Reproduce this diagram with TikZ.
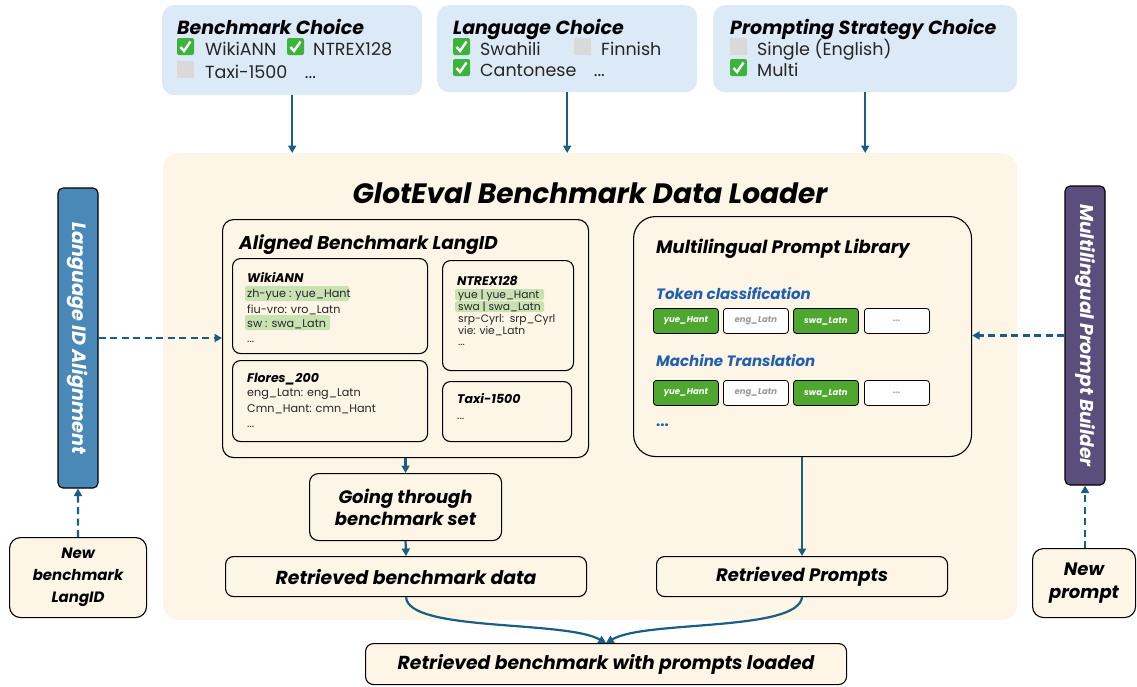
\documentclass[tikz,border=0pt]{standalone}
\usepackage{fontspec}
\setmainfont{Poppins}
\usetikzlibrary{arrows.meta}
\definecolor{topblue}{RGB}{220,233,246}
\definecolor{cream}{RGB}{253,245,230}
\definecolor{teal}{RGB}{27,94,131}
\definecolor{chipgreen}{RGB}{78,167,46}
\definecolor{hlgreen}{RGB}{200,226,180}
\definecolor{labblue}{RGB}{31,95,173}
\definecolor{lidblue}{RGB}{74,136,184}
\definecolor{builder}{RGB}{90,79,124}
\definecolor{chkgreen}{RGB}{60,180,60}
\definecolor{boxgrey}{RGB}{217,217,217}
\newcommand{\fs}[1]{\fontsize{#1}{#1}\selectfont}
\tikzset{
  topbox/.style={fill=topblue, rounded corners=12pt, anchor=north west, inner sep=0pt},
  bigbox/.style={fill=cream, rounded corners=16pt, anchor=north west, inner sep=0pt},
  rbox/.style={draw=black, line width=1.1pt, fill=cream, rounded corners=11pt, anchor=north west, inner sep=0pt},
  sbox/.style={draw=black, line width=1.1pt, fill=cream, rounded corners=8pt, anchor=north west, inner sep=0pt},
  chip/.style={draw=black, line width=0.8pt, rounded corners=3pt, minimum width=65, minimum height=25, anchor=north west, inner sep=0pt, font={\fs{8.5}\bfseries\itshape}},
  gchip/.style={chip, fill=chipgreen, text=white},
  wchip/.style={chip, fill=white, text=black!40},
  side/.style={draw=black, line width=1.1pt, rounded corners=5pt, minimum width=40, minimum height=300, inner sep=0pt},
  ttl/.style={anchor=base west, inner sep=0pt, font={\fs{19}\bfseries\itshape}},
  item/.style={anchor=base west, inner sep=0pt, font={\fs{17.5}}, text=black!85},
  sttl/.style={anchor=base west, inner sep=0pt, font={\fs{12.5}\bfseries\itshape}},
  sitem/.style={anchor=base west, inner sep=0pt, font={\fs{11.2}}, text=black!85},
  xsitem/.style={anchor=base west, inner sep=0pt, font={\fs{10.7}}, text=black!85},
  hl/.style={fill=hlgreen, rounded corners=2pt},
  conn/.style={teal, line width=2.2pt, -{Triangle[width=8pt,length=7.5pt]}},
  dconn/.style={conn, dash pattern=on 7pt off 4.5pt},
  pics/chk/.style={code={
    \fill[chkgreen, rounded corners=2pt] (0,0) rectangle (17,17);
    \draw[white, line width=2.4pt] (3.5,9) -- (7,13) -- (13.5,3.5);}},
  pics/gbox/.style={code={\fill[boxgrey] (0,0) rectangle (17,17);}}
}
\begin{document}
\begin{tikzpicture}[x=1pt,y=-1pt]
\useasboundingbox (0,0) rectangle (1137,686);

% top choice boxes
\node[topbox, minimum width=260, minimum height=90] (bc) at (162,5) {};
\node[topbox, minimum width=260, minimum height=87] (lc) at (437,5) {};
\node[topbox, minimum width=304, minimum height=87] (pc) at (713,5) {};

\node[ttl] (bct) at (177,34) {Benchmark Choice};
\pic at (177,38) {chk};
\node[item] (bc1) at (205,55) {WikiANN};
\pic at (287,38) {chk};
\node[item] (bc2) at (313,55) {NTREX128};
\pic at (177,61) {gbox};
\node[item] (bc3) at (205,78) {Taxi-1500\quad ...};

\node[ttl] (lct) at (453,34) {Language Choice};
\pic at (453,38) {chk};
\node[item] (lc1) at (480,55) {Swahili};
\pic at (574,38) {gbox};
\node[item] (lc2) at (601,55) {Finnish};
\pic at (453,59) {chk};
\node[item] (lc3) at (480,76) {Cantonese\quad ...};

\node[ttl] (pct) at (730,34) {Prompting Strategy Choice};
\pic at (730,38) {gbox};
\node[item] (pc1) at (757,55) {Single (English)};
\pic at (730,59) {chk};
\node[item] (pc2) at (757,76) {Multi};

% big loader box
\node[bigbox, minimum width=854, minimum height=467] (big) at (163,153) {};
\node[anchor=base, inner sep=0pt, font={\fs{28}\bfseries\itshape}] (bigt) at (590,203) {GlotEval Benchmark Data Loader};

% aligned benchmark langid
\node[rbox, minimum width=366, minimum height=238] (al) at (222,219) {};
\node[anchor=base west, inner sep=0pt, font={\fs{18.5}\bfseries\itshape}] (alt) at (239,249) {Aligned Benchmark LangID};

\node[sbox, minimum width=195, minimum height=95] (wk) at (232,258) {};
\node[sttl] (wkt) at (247,282) {WikiANN};
\fill[hl] (245,286) rectangle (349,301);
\fill[hl] (245,315) rectangle (330,330);
\node[sitem] (wk1) at (247,297) {zh-yue : yue\_Hant};
\node[sitem] (wk2) at (247,313) {fiu-vro: vro\_Latn};
\node[sitem] (wk3) at (247,327) {sw : swa\_Latn};
\node[sitem] (wk4) at (247,342) {...};

\node[sbox, minimum width=131, minimum height=110] (nt) at (442,260) {};
\node[sttl] (ntt) at (457,285) {NTREX128};
\fill[hl] (455,289) rectangle (544,300);
\fill[hl] (455,301) rectangle (544,312);
\node[xsitem] (nt1) at (458,298) {yue | yue\_Hant};
\node[xsitem] (nt2) at (458,310) {swa | swa\_Latn};
\node[xsitem] (nt3) at (458,322) {srp-Cyrl:\ \ srp\_Cyrl};
\node[xsitem] (nt4) at (458,334) {vie: vie\_Latn};
\node[xsitem] (nt5) at (458,345) {...};

\node[sbox, minimum width=195, minimum height=81] (fl) at (232,360) {};
\node[sttl] (flt) at (247,382) {Flores\_200};
\node[sitem] (fl1) at (247,396) {eng\_Latn: eng\_Latn};
\node[sitem] (fl2) at (247,412) {Cmn\_Hant: cmn\_Hant};
\node[sitem] (fl3) at (247,427) {...};

\node[sbox, minimum width=129, minimum height=60] (tx) at (442,381) {};
\node[sttl] (txt) at (457,403) {Taxi-1500};
\node[sitem] (tx1) at (457,419) {...};

% prompt library
\node[rbox, rounded corners=22pt, minimum width=338, minimum height=240] (pl) at (633,216) {};
\node[anchor=base west, inner sep=0pt, font={\fs{18}\bfseries\itshape}] (plt) at (656,253) {Multilingual Prompt Library};
\node[anchor=base west, inner sep=0pt, font={\fs{15}\bfseries\itshape}, text=labblue] (tc) at (656,299) {Token classification};
\node[gchip] (c1) at (653,308) {yue\_Hant};
\node[wchip] (c2) at (723,308) {eng\_Latn};
\node[gchip] (c3) at (793,308) {swa\_Latn};
\node[wchip] (c4) at (864,308) {...};
\node[anchor=base west, inner sep=0pt, font={\fs{15}\bfseries\itshape}, text=labblue] (mt) at (656,366) {Machine Translation};
\node[gchip] (d1) at (653,380) {yue\_Hant};
\node[wchip] (d2) at (723,380) {eng\_Latn};
\node[gchip] (d3) at (793,380) {swa\_Latn};
\node[wchip] (d4) at (864,380) {...};
\node[anchor=base west, inner sep=0pt, font={\fs{15}\bfseries}, text=labblue] (pdots) at (656,426) {...};

% flow boxes
\node[rbox, rounded corners=9pt, minimum width=192, minimum height=67] (go) at (309,473) {};
\node[align=center, font={\fs{18}\bfseries\itshape}, inner sep=0pt] (got) at (go.center) {Going through\\[3pt]benchmark set};
\node[rbox, rounded corners=8pt, minimum width=361, minimum height=40, font={\fs{18.8}\bfseries\itshape}] (rd) at (225,556) {Retrieved benchmark data};
\node[rbox, rounded corners=8pt, minimum width=291, minimum height=40, font={\fs{18}\bfseries\itshape}] (rp) at (656,556) {Retrieved Prompts};
\node[rbox, rounded corners=8pt, minimum width=481, minimum height=41, font={\fs{18.8}\bfseries\itshape}] (fin) at (365,643) {Retrieved benchmark with prompts loaded};

% side boxes
\node[side, fill=lidblue] (lid) at (78,338) {};
\node[rotate=-90, text=white, inner sep=0pt, font={\fs{19.2}\bfseries\itshape}] (lidt) at (lid.center) {Language ID Alignment};
\node[side, fill=builder, minimum height=299] (mb) at (1085,335.5) {};
\node[rotate=-90, text=white, inner sep=0pt, font={\fs{18.6}\bfseries\itshape}] (mbt) at (mb.center) {Multilingual Prompt Builder};

\node[rbox, rounded corners=11pt, minimum width=137, minimum height=80] (nb) at (9,537) {};
\node[align=center, inner sep=0pt, font={\fs{15}\bfseries\itshape}] (nbt) at (nb.center) {New\\[7pt]benchmark\\[7pt]LangID};
\node[rbox, rounded corners=11pt, minimum width=103, minimum height=69] (np) at (1032,548) {};
\node[align=center, inner sep=0pt, font={\fs{18}\bfseries\itshape}] (npt) at (np.center) {New\\[5pt]prompt};

% connectors
\draw[conn] (bc.south) -- (bc.south |- big.north);
\draw[conn] (lc.south) -- (lc.south |- big.north);
\draw[conn] (pc.south) -- (pc.south |- big.north);
\draw[conn] (al.south) -- (go.north);
\draw[conn] (go.south) -- (rd.north);
\draw[conn] (pl.south -| rp.north) -- (rp.north);
\draw[conn] (rd.south) .. controls (408,632) and (565,620) .. (fin.north);
\draw[conn] (rp.south) .. controls (798,632) and (645,620) .. (fin.north);
\draw[dconn] (lid.east) -- (al.west |- lid.east);
\draw[dconn] (mb.west) -- (pl.east |- mb.west);
\draw[dconn] (nb.north) -- (lid.south);
\draw[dconn] (np.north -| mb.south) -- (mb.south);
\end{tikzpicture}
\end{document}
